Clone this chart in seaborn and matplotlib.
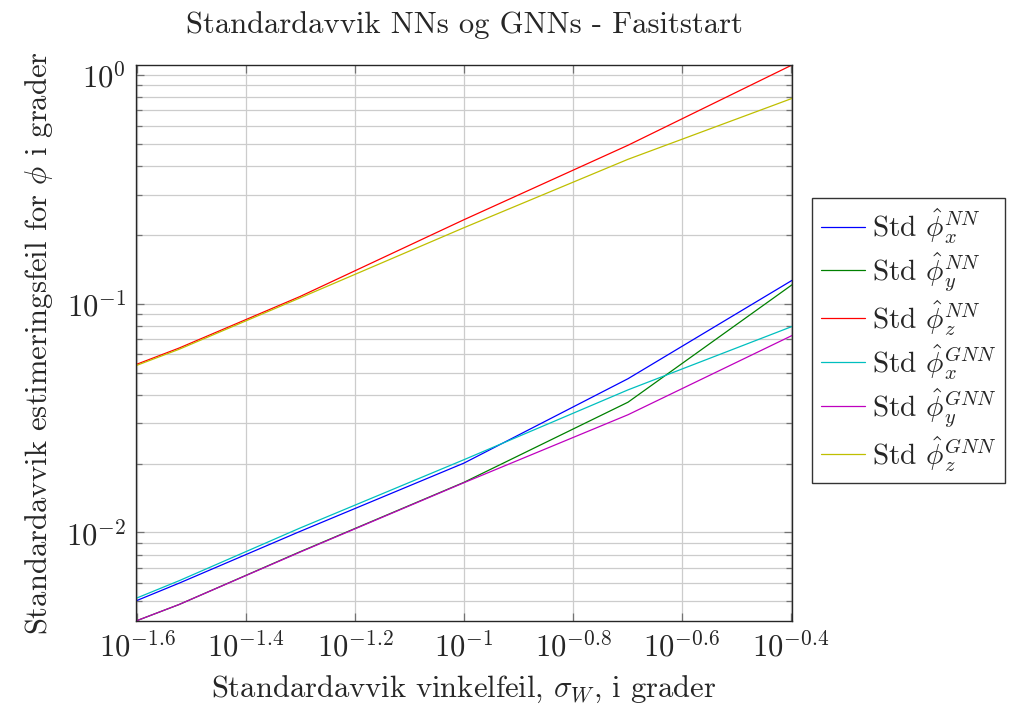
import numpy as np
import pandas as pd
import matplotlib
matplotlib.use("Agg")
import matplotlib.pyplot as plt
import matplotlib.ticker as mticker
import seaborn as sns

# ---- data ----
sigma_w = [0.025, 0.03, 0.05, 0.1, 0.2, 0.4]

nn_x = [0.00502, 0.00600, 0.01010, 0.0201, 0.0470, 0.1265]
nn_y = [0.00410, 0.00484, 0.00823, 0.01656, 0.0371, 0.1210]
nn_z = [0.0542, 0.0640, 0.1075, 0.233, 0.493, 1.106]
gnn_x = [0.00515, 0.00615, 0.01045, 0.0208, 0.0420, 0.0795]
gnn_y = [0.00410, 0.00484, 0.00820, 0.01650, 0.0327, 0.0726]
gnn_z = [0.0536, 0.0632, 0.1060, 0.215, 0.428, 0.790]

labels = [r'Std $\hat{\phi}_x^{NN}$', r'Std $\hat{\phi}_y^{NN}$', r'Std $\hat{\phi}_z^{NN}$',
          r'Std $\hat{\phi}_x^{GNN}$', r'Std $\hat{\phi}_y^{GNN}$', r'Std $\hat{\phi}_z^{GNN}$']
series = [nn_x, nn_y, nn_z, gnn_x, gnn_y, gnn_z]
colors = ['b', 'g', 'r', 'c', 'm', 'y']

x_tick_exps = [-1.6, -1.4, -1.2, -1.0, -0.8, -0.6, -0.4]

rows = []
for lab, vals in zip(labels, series):
    for xv, yv in zip(sigma_w, vals):
        rows.append({"sigma": xv, "std": yv, "serie": lab})
df = pd.DataFrame(rows)

# ---- style ----
sns.set_style("ticks")
plt.rcParams['font.family'] = ['cmr10', 'DejaVu Serif']
plt.rcParams['mathtext.fontset'] = 'cm'
plt.rcParams['axes.formatter.use_mathtext'] = True
plt.rcParams['axes.unicode_minus'] = False

fig = plt.figure(figsize=(10.11, 7.08), dpi=100)
ax = fig.add_axes([0.1345, 0.1229, 0.6489, 0.7853])

sns.lineplot(data=df, x="sigma", y="std", hue="serie", palette=dict(zip(labels, colors)),
             hue_order=labels, ax=ax, linewidth=0.9, legend=False)

ax.set_xscale('log')
ax.set_yscale('log')
ax.set_xlim(min(sigma_w), max(sigma_w))
ax.set_ylim(min(min(s) for s in series), max(max(s) for s in series))

ax.xaxis.set_major_locator(mticker.FixedLocator([10 ** e for e in x_tick_exps]))
ax.xaxis.set_major_formatter(mticker.FixedFormatter([r'$10^{%g}$' % e for e in x_tick_exps]))
ax.xaxis.set_minor_locator(mticker.NullLocator())

ax.yaxis.set_major_locator(mticker.LogLocator(base=10))
ax.yaxis.set_major_formatter(mticker.FuncFormatter(lambda v, p: r'$10^{%d}$' % int(round(np.log10(v)))))
ax.yaxis.set_minor_locator(mticker.LogLocator(base=10, subs=np.arange(2, 10)))
ax.yaxis.set_minor_formatter(mticker.NullFormatter())

ax.grid(True, which='major', axis='both', color='0.8', linewidth=0.9)
ax.grid(True, which='minor', axis='y', color='0.8', linewidth=0.9)
ax.set_axisbelow(True)

ax.tick_params(which='both', direction='in', top=True, right=True, color='0.45')
ax.tick_params(which='major', length=6, width=0.9, labelsize=22, pad=7)
ax.tick_params(which='minor', length=4, width=0.9)
for sp in ax.spines.values():
    sp.set_color('0.15')
    sp.set_linewidth(1.0)

ax.set_title('Standardavvik NNs og GNNs - Fasitstart', fontsize=22, pad=23)
ax.set_xlabel(r'Standardavvik vinkelfeil, $\sigma_W$, i grader', fontsize=22, labelpad=9)
ax.set_ylabel(r'Standardavvik estimeringsfeil for $\phi$ i grader', fontsize=22, labelpad=8)

handles = [plt.Line2D([], [], color=c, linewidth=0.9) for c in colors]
leg = ax.legend(handles, labels, loc='center left', bbox_to_anchor=(1.031, 0.505),
                borderaxespad=0.0,
                fontsize=21, frameon=True, fancybox=False, edgecolor='black',
                handlelength=1.5, handletextpad=0.25, labelspacing=0.15, borderpad=0.3)
leg.get_frame().set_linewidth(1.0)

fig.savefig('out.png', dpi=100)
